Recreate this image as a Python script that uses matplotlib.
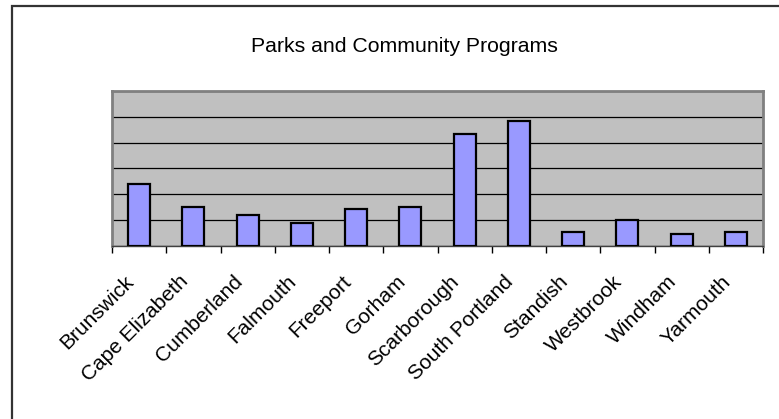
import numpy as np
import matplotlib.pyplot as plt
import matplotlib.transforms as mtransforms
from matplotlib.patches import Rectangle

towns = ["Brunswick", "Cape Elizabeth", "Cumberland", "Falmouth", "Freeport",
         "Gorham", "Scarborough", "South Portland", "Standish", "Westbrook",
         "Windham", "Yarmouth"]
values = [2.39, 1.52, 1.2, 0.9, 1.44, 1.52, 4.32, 4.83, 0.55, 1.02, 0.47, 0.55]
title = "Parks and Community Programs"

plt.rcParams['font.family'] = ['Liberation Sans', 'DejaVu Sans']

W, H = 779, 419
fig = plt.figure(figsize=(W / 100, H / 100), dpi=100)
ax = fig.add_axes([112 / W, 1 - 246 / H, 651 / W, 155 / H])

x = np.arange(len(towns))
ax.bar(x, values, width=0.41, color="#9999FF", edgecolor="black", linewidth=1.6, zorder=3)

ax.set_facecolor("#C0C0C0")
ax.set_xlim(-0.5, len(towns) - 0.5)
ax.set_ylim(0, 6)
ax.set_yticks(np.arange(0, 7, 1))
ax.yaxis.grid(True, color="black", linewidth=0.9, zorder=1)
ax.tick_params(axis="y", length=0, labelleft=False)

ax.set_xticks(x)
ax.set_xticklabels(towns, rotation=45, ha="right", rotation_mode="anchor", fontsize=15)
ax.tick_params(axis="x", which="major", length=0, pad=10)
ax.set_xticks(np.arange(-0.5, len(towns)), minor=True)
ax.tick_params(axis="x", which="minor", length=5, width=1, color="black")

# shift labels a bit left and down, like the original
shift = mtransforms.ScaledTranslation(-15 / 100, -12 / 100, fig.dpi_scale_trans)
for lbl in ax.get_xticklabels():
    lbl.set_transform(lbl.get_transform() + shift)

for side in ["top", "right", "left"]:
    ax.spines[side].set_color("#808080")
    ax.spines[side].set_linewidth(2)
ax.spines["bottom"].set_color("#404040")
ax.spines["bottom"].set_linewidth(1)

fig.text(404 / W, 1 - 47 / H, title, ha="center", va="center", fontsize=15.3)

# chart area border
fig.patches.append(Rectangle((12 / W, -0.2), 2, 1.2 - 6 / H, transform=fig.transFigure,
                             fill=False, edgecolor="#333333", linewidth=1.6))

fig.savefig("out.png", dpi=100)
